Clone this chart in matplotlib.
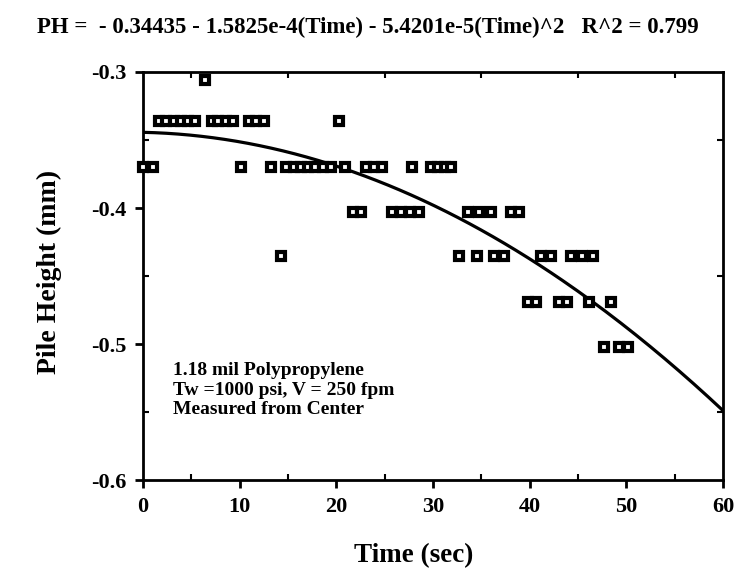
import numpy as np
import matplotlib
matplotlib.use("Agg")
import matplotlib.pyplot as plt
from matplotlib.ticker import MultipleLocator

# measured pile height (mm) vs time (sec), grouped by level
time_a = [6.4]
ph_a = [-0.306] * len(time_a)

time_b = [1.7, 2.4, 3.2, 3.9, 4.7, 5.4, 7.1, 7.8, 8.6, 9.3, 11.0, 11.7, 12.5, 20.3]
ph_b = [-0.336] * len(time_b)

time_c = [0.0, 1.0, 10.1, 13.2, 14.8, 15.6, 16.3, 17.1, 17.8, 18.6, 19.4,
          20.9, 23.1, 23.9, 24.7, 27.8, 29.8, 30.5, 31.2, 31.9]
ph_c = [-0.370] * len(time_c)

time_d = [21.7, 22.5, 25.8, 26.7, 27.6, 28.6, 33.6, 34.8, 36.0, 38.1, 38.9]
ph_d = [-0.403] * len(time_d)

time_e = [14.3, 32.7, 34.5, 36.3, 37.3, 41.2, 42.2, 44.3, 45.4, 46.6]
ph_e = [-0.435] * len(time_e)

time_f = [39.8, 40.7, 43.0, 43.9, 46.1, 48.4]
ph_f = [-0.469] * len(time_f)

time_g = [47.7, 49.2, 50.2]
ph_g = [-0.502] * len(time_g)

times = time_a + time_b + time_c + time_d + time_e + time_f + time_g
heights = ph_a + ph_b + ph_c + ph_d + ph_e + ph_f + ph_g

# quadratic fit coefficients
c0, c1, c2 = -0.34435, -1.5825e-4, -5.4201e-5
r2 = 0.799

plt.rcParams['font.family'] = ['Liberation Serif', 'DejaVu Serif']
plt.rcParams['font.weight'] = 'bold'

fig = plt.figure(figsize=(7.35, 5.68), dpi=100)
ax = fig.add_axes([143 / 735, 88 / 568, 580 / 735, 408 / 568])

t = np.linspace(0, 60, 200)
ax.plot(t, c0 + c1 * t + c2 * t ** 2, color='black', lw=2.3, zorder=2)
ax.plot(times, heights, 's', ms=6, mfc='white', mec='black', mew=3,
        zorder=3, clip_on=False)

ax.set_xlim(0, 60)
ax.set_ylim(-0.6, -0.3)
ax.xaxis.set_major_locator(MultipleLocator(10))
ax.xaxis.set_minor_locator(MultipleLocator(5))
ax.yaxis.set_major_locator(MultipleLocator(0.1))
ax.yaxis.set_minor_locator(MultipleLocator(0.05))
ax.set_yticks([-0.6, -0.5, -0.4, -0.3])
ax.set_yticklabels(['-0.6', '-0.5', '-0.4', '-0.3'])

ax.tick_params(which='major', direction='out', length=6, width=2,
               labelsize=16, pad=6)
ax.tick_params(which='minor', direction='in', length=4, width=1.5)
ax.tick_params(which='both', top=True, right=True)
ax.tick_params(axis='x', which='major', top=False)
ax.tick_params(axis='y', which='major', right=False)
for lbl in ax.get_xticklabels() + ax.get_yticklabels():
    lbl.set_fontweight('bold')
for sp in ax.spines.values():
    sp.set_linewidth(2)

ax.set_xlabel('Time (sec)', fontsize=19.5, fontweight='bold')
ax.xaxis.set_label_coords(0.466, -0.155)
ax.set_ylabel('Pile Height (mm)', fontsize=20, fontweight='bold')
ax.yaxis.set_label_coords(-0.14, 0.51)

fig.text(0.5, 0.951,
         f'PH =  - {abs(c0):.5f} - 1.5825e-4(Time) - 5.4201e-5(Time)^2   R^2 = {r2:.3f}',
         ha='center', va='center', fontsize=16.5, fontweight='bold')

ax.text(3.1, -0.5135,
        '1.18 mil Polypropylene\nTw =1000 psi, V = 250 fpm\nMeasured from Center',
        fontsize=14, fontweight='bold', va='top', ha='left', linespacing=1.18)

fig.savefig('out.png', dpi=100)
